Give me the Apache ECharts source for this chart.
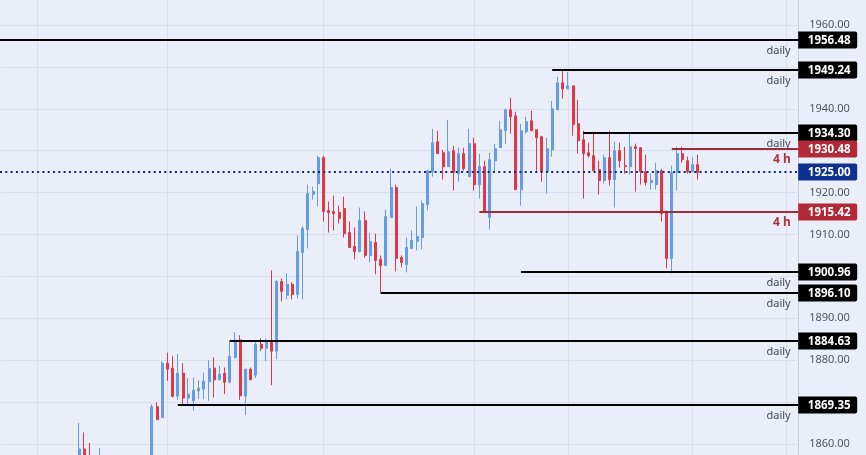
<!DOCTYPE html>
<html>
<head>
<meta charset="utf-8">
<style>
html, body { margin: 0; padding: 0; background: #e9eef9; }
#chart { width: 866px; height: 455px; }
</style>
<script src="https://cdn.jsdelivr.net/npm/echarts@6/dist/echarts.min.js"></script>
</head>
<body>
<div id="chart"></div>
<script>
var firstBar = 15
var barCount = 154
var opens = [
    1852, 1858.81, 1857, null, 1853, null, null, null, null, null, null, null, null, null,
    1855, 1868.88, 1866.26, 1879.29, 1878.1, 1871.43, 1876.9, 1870.95, 1870.31, 1872.62,
    1873.1, 1874.83, 1878.1, 1875.31, 1876.9, 1874.76, 1880.64, 1884.83, 1871.43, 1877.86,
    1876.43, 1883.81, 1882.86, 1884.28, 1882.14, 1898.81, 1895.48, 1898.1, 1895.71, 1905.71,
    1911.19, 1919.52, 1922.14, 1928.33, 1915.71, 1915.48, 1915.24, 1916.19, 1910.48, 1907.14,
    1905.95, 1913.33, 1905, 1908.1, 1904.05, 1902.62, 1914.05, 1921.19, 1904.52, 1902.86,
    1906.67, 1908.33, 1909.29, 1917.14, 1925, 1932.14, 1929.52, 1926.19, 1930, 1924.52,
    1929.29, 1923.81, 1931.67, 1921.9, 1926.19, 1914.05, 1927.62, 1930.71, 1934.76, 1939.76,
    1938.33, 1920.71, 1934.52, 1937.14, 1935, 1933.33, 1925, 1930.24, 1939.76, 1946.19,
    1944.76, 1945.47, 1936.43, 1932.62, 1929.52, 1928.81, 1925.48, 1922.86, 1928.33, 1923.1,
    1930, 1926.43, 1926.19, 1930.95, 1930.71, 1925, 1922.38, 1921.9, 1925.24, 1915.48,
    1904.29, 1924.76, 1929.29, 1927.62, 1925, 1926.67
]
var closes = [
    1858.81, 1855, 1854, null, 1857, null, null, null, null, null, null, null, null, null,
    1868.88, 1865.79, 1879.29, 1877.86, 1871.36, 1876.9, 1870.95, 1871.9, 1872.86, 1873.33,
    1875, 1878.02, 1875.31, 1876.67, 1874.76, 1880.95, 1884.83, 1871.5, 1877.86, 1875.31,
    1883.81, 1882.86, 1884.28, 1882.14, 1898.81, 1896.43, 1898.1, 1895.71, 1905.95, 1911.43,
    1919.76, 1920.24, 1928.33, 1915.48, 1915.24, 1915, 1913.81, 1910.24, 1906.9, 1905.95,
    1913.33, 1905, 1908.33, 1903.81, 1902.62, 1914.29, 1921.19, 1904.29, 1903.33, 1906.9,
    1908.57, 1909.52, 1917.38, 1925.24, 1931.9, 1929.29, 1926.19, 1929.76, 1924.76, 1929.29,
    1925.71, 1931.67, 1921.9, 1926.19, 1915.24, 1927.86, 1930.48, 1935, 1939.76, 1938.09,
    1920.71, 1934.76, 1936.9, 1934.76, 1933.1, 1925, 1930.48, 1940, 1946.19, 1944.76,
    1945.47, 1936.19, 1932.38, 1929.29, 1928.81, 1925.24, 1922.86, 1928.33, 1923.1, 1930,
    1927.62, 1926.19, 1930.95, 1930.48, 1925, 1922.38, 1922.86, 1925.24, 1915, 1904.29,
    1924.76, 1929.29, 1927.86, 1925, 1926.67, 1924.76
]
var lows = [
    1850, 1853, 1852, null, 1852, null, null, null, null, null, null, null, null, null,
    1853, 1865.79, 1866.26, 1875.07, 1871.12, 1870.55, 1869.12, 1869.12, 1867.93, 1870.71,
    1870.71, 1870.31, 1871.12, 1875.24, 1871.9, 1874.52, 1880.4, 1870.55, 1866.9, 1875.31,
    1875.71, 1882.21, 1879.76, 1874.05, 1880.24, 1894.05, 1894.52, 1894.52, 1894.76, 1894.52,
    1906.67, 1918.33, 1916.67, 1913.1, 1910.48, 1910.95, 1912.62, 1909.29, 1906.9, 1904.05,
    1905.71, 1904.52, 1903.33, 1900.48, 1896.19, 1902.62, 1914.05, 1901.19, 1902.14, 1900.95,
    1906.67, 1906.19, 1906.43, 1915.71, 1923.81, 1929.29, 1923.1, 1926.19, 1920.48, 1922.62,
    1925.24, 1923.81, 1920.48, 1918.57, 1915.24, 1911.19, 1925, 1930.71, 1931.67, 1934.05,
    1920.71, 1916.9, 1934.05, 1934.76, 1925.24, 1922.62, 1919.76, 1928.57, 1939.76, 1942.38,
    1944.76, 1933.57, 1929.29, 1918.57, 1928.33, 1925.24, 1919.52, 1922.14, 1921.67, 1916.43,
    1925.95, 1924.52, 1924.29, 1920.24, 1921.9, 1921.67, 1920.71, 1920.71, 1913.1, 1901.9,
    1900.71, 1920.48, 1927.14, 1924.52, 1925, 1923.1
]
var highs = [
    1865, 1862.78, 1860.24, null, 1859.05, null, null, null, null, null, null, null, null, null,
    1869.52, 1869.93, 1879.76, 1881.83, 1880.95, 1881.43, 1879.29, 1875.71, 1875.88, 1875.24,
    1877.07, 1880, 1880.71, 1878.64, 1878.26, 1884.76, 1886.67, 1885.95, 1877.93, 1878.26,
    1884.69, 1885.24, 1885.17, 1901.43, 1899.05, 1899.52, 1900.71, 1898.57, 1909.76, 1911.98,
    1921.9, 1921.43, 1928.81, 1928.81, 1917.86, 1919.29, 1916.9, 1919.05, 1913.1, 1911.67,
    1916.43, 1915.48, 1910.48, 1910.24, 1905, 1915.95, 1925.71, 1921.9, 1905, 1909.29,
    1910.95, 1916.67, 1918.1, 1925.48, 1935.24, 1934.76, 1930.24, 1937.38, 1931.19, 1930.71,
    1930.71, 1935.24, 1933.1, 1929.29, 1927.62, 1929.52, 1931.67, 1937.14, 1940, 1942.62,
    1939.29, 1936.43, 1938.09, 1939.52, 1935, 1933.57, 1933.1, 1941.9, 1947.62, 1949.28,
    1948.81, 1945.47, 1942.14, 1934.76, 1931.9, 1934.52, 1927.62, 1929.05, 1934.76, 1932.14,
    1931.9, 1930.95, 1934.29, 1931.67, 1930.71, 1929.05, 1924.52, 1927.14, 1925.71, 1915.71,
    1926.43, 1930.95, 1930.95, 1928.57, 1928.33, 1929.05
]

// support / resistance levels
var levelValues = [1956.48, 1949.24, 1934.30, 1930.48, 1915.42, 1900.96, 1896.10, 1884.63, 1869.35]
var levelStarts = [0, 106, 112, 129, 92, 100, 73, 44, 34]
var levelNames = ['daily', 'daily', 'daily', '4 h', '4 h', 'daily', 'daily', 'daily', 'daily']
var lastPrice = 1925.00
var gridBars = [7, 32, 62, 91, 109, 133, 151]

var categories = []
for (var c = 0; c < barCount; c++) categories.push('bar ' + c)

var candles = categories.map(function (name, i) {
    var k = i - firstBar
    if (k < 0 || k >= opens.length || opens[k] === null) return ['-', '-', '-', '-']
    return [opens[k], closes[k], lows[k], highs[k]]
})

var levelRows = levelValues.map(function (v, i) {
    return [levelStarts[i], v, levelNames[i]]
})
levelRows.push([0, lastPrice, 'last'])

var font = '"Noto Sans", sans-serif'
var axisShift = 1.6
var tagWidth = 59
var tagHeight = 17

function drawLevel(params, api) {
    var start = api.coord([api.value(0), api.value(1)])
    var end = api.coord([barCount - 1, api.value(1)])
    var name = levelRows[params.dataIndex][2]
    var isLast = name === 'last'
    var is4h = name === '4 h'
    var tagColor = isLast ? '#0c318f' : is4h ? '#b22a38' : '#000000'
    var lineColor = isLast ? '#0c2a7c' : is4h ? '#a02c3a' : '#000000'
    var tagX = end[0] + axisShift
    var y = Math.round(start[1])
    var children = [{
        type: 'line',
        shape: { x1: start[0] <= 1 ? 0 : start[0], y1: y, x2: tagX, y2: y },
        style: { stroke: lineColor, lineWidth: 2, lineDash: isLast ? [2, 3.3] : null }
    }, {
        type: 'rect',
        shape: { x: tagX, y: y - tagHeight / 2, width: tagWidth, height: tagHeight, r: [0, 2, 2, 0] },
        style: { fill: tagColor }
    }, {
        type: 'text',
        style: {
            text: api.value(1).toFixed(2), x: tagX + 31, y: y + 1,
            fill: '#ffffff', font: 'bold 11.5px ' + font, align: 'center', verticalAlign: 'middle'
        }
    }]
    if (!isLast) {
        children.push({
            type: 'text',
            style: {
                text: name, x: tagX - 7.5, y: y + 10.5,
                fill: is4h ? '#ae3440' : '#444a55',
                font: (is4h ? 'bold 12px ' : '11px ') + font, align: 'right', verticalAlign: 'middle'
            }
        })
    }
    return { type: 'group', children: children }
}

var chart = echarts.init(document.getElementById('chart'))
var option = {
    backgroundColor: '#e9eef9',
    animation: false,
    grid: { left: 1, width: 795.6, top: -16.9, height: 502.8, outerBoundsMode: 'none' },
    xAxis: {
        type: 'category',
        data: categories,
        boundaryGap: false,
        axisLine: { show: false },
        axisTick: { show: false },
        axisLabel: { show: false },
        splitLine: {
            show: true,
            interval: function (index) { return gridBars.indexOf(index) >= 0 },
            lineStyle: { color: '#d9dfec', width: 1 }
        }
    },
    yAxis: {
        type: 'value',
        position: 'right',
        offset: axisShift,
        min: 1850,
        max: 1970,
        interval: 10,
        axisLine: { show: true, lineStyle: { color: '#c6ccd9', width: 1 } },
        axisTick: { show: false },
        axisLabel: {
            margin: 11,
            padding: [3, 0, 0, 0],
            color: '#50555f',
            fontFamily: font,
            fontSize: 11,
            formatter: function (v) { return v.toFixed(2) }
        },
        splitLine: { show: true, lineStyle: { color: '#d9dfec', width: 1 } }
    },
    series: [{
        type: 'candlestick',
        data: candles,
        barWidth: 2.5,
        itemStyle: {
            color: '#659ce8',
            color0: '#e23747',
            borderColor: '#659ce8',
            borderColor0: '#e23747',
            borderWidth: 1
        }
    }, {
        type: 'custom',
        data: levelRows,
        renderItem: drawLevel,
        clip: false,
        silent: true,
        z: 5,
        encode: { x: 0, y: 1 }
    }]
}
chart.setOption(option)
</script>
</body>
</html>
